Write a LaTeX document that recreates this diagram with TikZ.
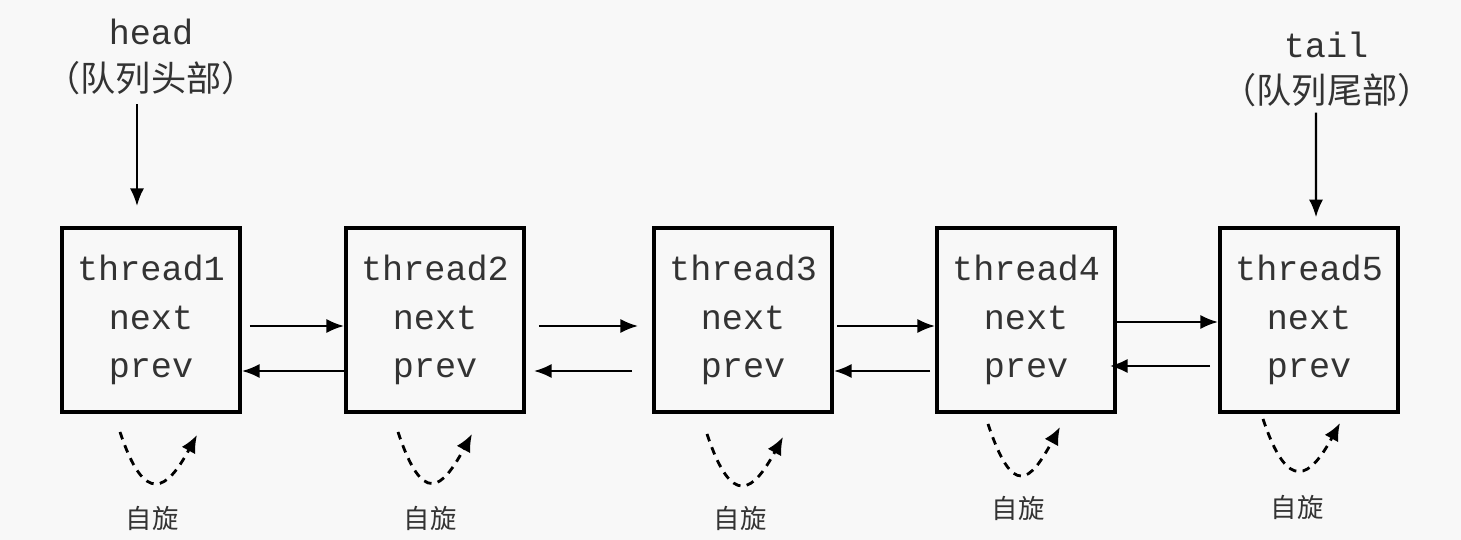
\documentclass[tikz,border=0pt]{standalone}
\usepackage{fontspec}
\setmonofont{Liberation Mono}
\newfontfamily\cjk{Noto Sans CJK SC}
\usetikzlibrary{arrows.meta}
\definecolor{PaperGray}{HTML}{F8F8F8}
\definecolor{InkGray}{HTML}{333333}

\begin{document}
\begin{tikzpicture}[x=0.01cm,y=-0.01cm,
  thread/.style={draw,line width=1.1pt,minimum width=1.78cm,minimum height=1.84cm,align=center,text=InkGray,font=\ttfamily\fontsize{10}{13.7}\selectfont},
  label/.style={text=InkGray,inner sep=0pt},
  link/.style={line width=0.6pt,-{Latex[length=5pt,width=4pt]}},
  spin/.style={dash pattern=on 2.2pt off 1.8pt,line width=0.8pt,-{Latex[length=5pt,width=4.4pt]}}]
  \fill[PaperGray] (0,0) rectangle (1461,540); \useasboundingbox (0,0) rectangle (1461,540);
  % queue nodes
  \node[thread] (t1) at (151,320) {thread1\\next\\prev};
  \node[thread] (t2) at (435,320) {thread2\\next\\prev};
  \node[thread] (t3) at (743,320) {thread3\\next\\prev};
  \node[thread] (t4) at (1026,320) {thread4\\next\\prev};
  \node[thread] (t5) at (1309,320) {thread5\\next\\prev};
  % head and tail
  \node[label,font=\ttfamily\fontsize{10}{12}\selectfont] (head) at (151,32) {head};
  \node[label,font=\cjk\fontsize{10}{12}\selectfont] (headcn) at (151,78) {（队列头部）};
  \node[label,font=\ttfamily\fontsize{10}{12}\selectfont] (tail) at (1326,45) {tail};
  \node[label,font=\cjk\fontsize{10}{12}\selectfont] (tailcn) at (1327,90) {（队列尾部）};
  \draw[link,shorten <=2.5pt,shorten >=5.7pt] ([xshift=-0.14cm]headcn.south) -- ([xshift=-0.14cm]t1.north);
  \draw[link,shorten <=1.5pt,shorten >=2.5pt] ([xshift=-0.11cm]tailcn.south) -- ([xshift=0.07cm]t5.north);
  % next / prev
  \draw[link] ([shift={(8,6)}]t1.east) -- ([shift={(0,6)}]t2.west);
  \draw[link] ([shift={(0,51)}]t2.west) -- ([shift={(0,51)}]t1.east);
  \draw[link] ([shift={(13,6)}]t2.east) -- ([shift={(-14,6)}]t3.west);
  \draw[link] ([shift={(-20,51)}]t3.west) -- ([shift={(8,51)}]t2.east);
  \draw[link] ([shift={(3,6)}]t3.east) -- ([shift={(0,6)}]t4.west);
  \draw[link] ([shift={(-5,51)}]t4.west) -- ([shift={(0,51)}]t3.east);
  \draw[link] ([shift={(0,2)}]t4.east) -- ([shift={(0,2)}]t5.west);
  \draw[link] ([shift={(-8,46)}]t5.west) -- ([shift={(-7,46)}]t4.east);
  % spinning
  \draw[spin] ([shift={(-31,18)}]t1.south) .. controls +(25,75) and +(-30,55) .. ([shift={(46,21)}]t1.south);
  \draw[spin] ([shift={(-37,18)}]t2.south) .. controls +(25,75) and +(-30,55) .. ([shift={(37,20)}]t2.south);
  \draw[spin] ([shift={(-36,20)}]t3.south) .. controls +(25,75) and +(-30,55) .. ([shift={(40,23)}]t3.south);
  \draw[spin] ([shift={(-38,10)}]t4.south) .. controls +(25,75) and +(-30,55) .. ([shift={(34,13)}]t4.south);
  \draw[spin] ([shift={(-46,5)}]t5.south) .. controls +(25,75) and +(-30,55) .. ([shift={(31,9)}]t5.south);
  \node[label,font=\cjk\fontsize{7.5}{9}\selectfont] (s1) at (152,518) {自旋};
  \node[label,font=\cjk\fontsize{7.5}{9}\selectfont] (s2) at (430,518) {自旋};
  \node[label,font=\cjk\fontsize{7.5}{9}\selectfont] (s3) at (740,518) {自旋};
  \node[label,font=\cjk\fontsize{7.5}{9}\selectfont] (s4) at (1018,508) {自旋};
  \node[label,font=\cjk\fontsize{7.5}{9}\selectfont] (s5) at (1297,507) {自旋};
\end{tikzpicture}
\end{document}
